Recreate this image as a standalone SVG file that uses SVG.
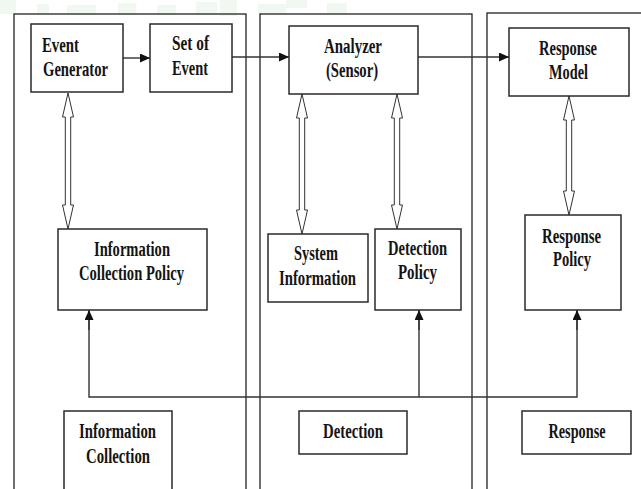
<svg xmlns="http://www.w3.org/2000/svg" width="641" height="489" viewBox="0 0 641 489">
  <style>
    .panel { fill: none; stroke: #222; stroke-width: 1.3; }
    .box { fill: #fff; stroke: #2a2a2a; stroke-width: 1.5; }
    .lbl { font-family: "Liberation Serif", "Times New Roman", serif; font-weight: bold; font-size: 20px; fill: #141414; text-anchor: middle; }
    .start { text-anchor: start; }
    .wire { fill: none; stroke: #333; stroke-width: 1.4; }
    .dbl { fill: #fff; stroke: #333; stroke-width: 1; stroke-linejoin: miter; }
    .tint { fill: #e6f4e6; }
  </style>
  <defs>
    <marker id="tip" markerUnits="userSpaceOnUse" markerWidth="10" markerHeight="10" refX="10" refY="4.5" orient="auto">
      <path d="M0,0 L10,4.5 L0,9 z" fill="#111"/>
    </marker>
  </defs>

  <rect width="641" height="489" fill="#fff"/>

  <!-- faint green pattern along the top edge -->
  <g id="top-pattern" opacity="0.55">
    <rect class="tint" x="0" y="0" width="16" height="14"/>
    <rect class="tint" x="37" y="4" width="12" height="10"/>
    <rect class="tint" x="67" y="5" width="29" height="10"/>
    <rect class="tint" x="118" y="3" width="18" height="12"/>
    <rect class="tint" x="157" y="5" width="19" height="10"/>
    <rect class="tint" x="196" y="2" width="21" height="13"/>
    <rect class="tint" x="220" y="0" width="17" height="16"/>
    <rect class="tint" x="258" y="4" width="28" height="10"/>
    <rect class="tint" x="286" y="0" width="21" height="8"/>
    <rect class="tint" x="327" y="3" width="20" height="11"/>
  </g>

  <!-- stage panels -->
  <g id="panels">
    <rect class="panel" x="14" y="14" width="232" height="500"/>
    <rect class="panel" x="260" y="14" width="212" height="500"/>
    <rect class="panel" x="487" y="13" width="180" height="500"/>
  </g>

  <!-- connectors -->
  <g id="connectors">
    <line class="wire" x1="123" y1="58" x2="150" y2="58" marker-end="url(#tip)"/>
    <line class="wire" x1="232" y1="57" x2="289" y2="57" marker-end="url(#tip)"/>
    <line class="wire" x1="418" y1="57" x2="509" y2="57" marker-end="url(#tip)"/>

    <!-- policy feedback bus -->
    <polyline class="wire" points="89,310 89,397 577,397 577,310"/>
    <line class="wire" x1="419" y1="397" x2="419" y2="310"/>
    <line class="wire" x1="89" y1="330" x2="89" y2="310" marker-end="url(#tip)"/>
    <line class="wire" x1="419" y1="330" x2="419" y2="310" marker-end="url(#tip)"/>
    <line class="wire" x1="577" y1="330" x2="577" y2="310" marker-end="url(#tip)"/>

    <!-- hollow two-way arrows -->
    <polygon class="dbl" points="68,93 73.5,117 70.7,117 70.7,205 73.5,205 68,229 62.5,205 65.3,205 65.3,117 62.5,117"/>
    <polygon class="dbl" points="302,94 307.5,118 304.7,118 304.7,210 307.5,210 302,234 296.5,210 299.3,210 299.3,118 296.5,118"/>
    <polygon class="dbl" points="397,94 402.5,118 399.7,118 399.7,205 402.5,205 397,229 391.5,205 394.3,205 394.3,118 391.5,118"/>
    <polygon class="dbl" points="569,96 574.5,120 571.7,120 571.7,191 574.5,191 569,215 563.5,191 566.3,191 566.3,120 563.5,120"/>
  </g>

  <g id="event-generator">
    <rect class="box" x="31" y="24" width="92" height="68"/>
    <text class="lbl start" x="42" y="52" textLength="37" lengthAdjust="spacingAndGlyphs">Event</text>
    <text class="lbl start" x="43" y="76" textLength="65" lengthAdjust="spacingAndGlyphs">Generator</text>
  </g>

  <g id="set-of-event">
    <rect class="box" x="150" y="24" width="82" height="68"/>
    <text class="lbl" x="190.5" y="50" textLength="37" lengthAdjust="spacingAndGlyphs">Set of</text>
    <text class="lbl" x="190" y="75" textLength="36" lengthAdjust="spacingAndGlyphs">Event</text>
  </g>

  <g id="analyzer">
    <rect class="box" x="289" y="26" width="129" height="68"/>
    <text class="lbl" x="353" y="53" textLength="58" lengthAdjust="spacingAndGlyphs">Analyzer</text>
    <text class="lbl" x="352" y="77" textLength="52" lengthAdjust="spacingAndGlyphs">(Sensor)</text>
  </g>

  <g id="response-model">
    <rect class="box" x="509" y="28" width="120" height="68"/>
    <text class="lbl" x="568" y="55" textLength="58" lengthAdjust="spacingAndGlyphs">Response</text>
    <text class="lbl" x="568.5" y="79" textLength="39" lengthAdjust="spacingAndGlyphs">Model</text>
  </g>

  <g id="information-collection-policy">
    <rect class="box" x="58" y="229" width="149" height="81"/>
    <text class="lbl" x="132" y="256" textLength="76" lengthAdjust="spacingAndGlyphs">Information</text>
    <text class="lbl" x="131.5" y="280" textLength="105" lengthAdjust="spacingAndGlyphs">Collection Policy</text>
  </g>

  <g id="system-information">
    <rect class="box" x="268" y="234" width="100" height="68"/>
    <text class="lbl" x="316" y="260" textLength="44" lengthAdjust="spacingAndGlyphs">System</text>
    <text class="lbl" x="317.5" y="285" textLength="77" lengthAdjust="spacingAndGlyphs">Information</text>
  </g>

  <g id="detection-policy">
    <rect class="box" x="375" y="229" width="86" height="81"/>
    <text class="lbl" x="417.5" y="255" textLength="59" lengthAdjust="spacingAndGlyphs">Detection</text>
    <text class="lbl" x="417.5" y="279" textLength="39" lengthAdjust="spacingAndGlyphs">Policy</text>
  </g>

  <g id="response-policy">
    <rect class="box" x="525" y="215" width="96" height="95"/>
    <text class="lbl" x="571.5" y="243" textLength="59" lengthAdjust="spacingAndGlyphs">Response</text>
    <text class="lbl" x="572" y="266" textLength="38" lengthAdjust="spacingAndGlyphs">Policy</text>
  </g>

  <g id="information-collection">
    <rect class="box" x="64" y="411" width="108" height="80"/>
    <text class="lbl" x="117.5" y="438" textLength="77" lengthAdjust="spacingAndGlyphs">Information</text>
    <text class="lbl" x="118" y="463" textLength="64" lengthAdjust="spacingAndGlyphs">Collection</text>
  </g>

  <g id="detection">
    <rect class="box" x="299" y="411" width="108" height="43"/>
    <text class="lbl" x="353" y="438" textLength="60" lengthAdjust="spacingAndGlyphs">Detection</text>
  </g>

  <g id="response">
    <rect class="box" x="522" y="411" width="109" height="43"/>
    <text class="lbl" x="577" y="438" textLength="57" lengthAdjust="spacingAndGlyphs">Response</text>
  </g>
</svg>
